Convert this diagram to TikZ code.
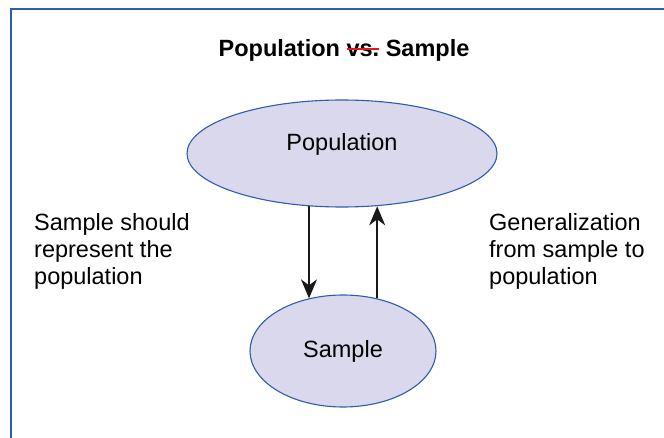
\documentclass[tikz,border=0pt]{standalone}
\usepackage{fontspec}
\setmainfont{Liberation Sans}
\usepackage{xcolor}
\usetikzlibrary{arrows.meta,shapes.geometric}

\definecolor{frameblue}{HTML}{2F5DAE}
\definecolor{lavender}{HTML}{D9D8EC}
\definecolor{strikered}{HTML}{E8141C}

\newsavebox{\strikebox}
\newcommand{\redstrike}[1]{\sbox{\strikebox}{#1}\rlap{\usebox{\strikebox}}\textcolor{strikered}{\rule[0.3em]{\wd\strikebox}{0.09em}}}

\begin{document}
\begin{tikzpicture}[
  x=1pt,y=-1pt,
  >={Stealth[length=19pt,width=16pt,inset=6pt]},
  font=\fontsize{23.5}{27}\selectfont,
  blob/.style={ellipse, draw=frameblue, fill=lavender, line width=1.1pt, inner sep=0pt},
  note/.style={align=left, anchor=north west, inner sep=0pt},
  arrow/.style={->, line width=1.7pt, draw=black!90}
]
\useasboundingbox (0,0) rectangle (664,438);
% Frame, running off the right and bottom edges.
\draw[frameblue, line width=2pt] (10.5,450) -- (10.5,9) -- (680,9);

% Title.
\node[font=\fontsize{23.5}{27}\selectfont\bfseries, anchor=base] (title) at (344,57) {Population \redstrike{vs.} Sample};

% Population and sample.
\node[blob, minimum width=310, minimum height=107] (pop) at (342,153.5) {};
\node[anchor=base] (poptext) at (342,151) {Population};
\node[blob, minimum width=186, minimum height=112] (smp) at (343,351) {Sample};

\draw[arrow] (pop.238) -- (pop.238 |- smp.123);
\draw[arrow] (smp.57) -- (smp.57 |- pop.302);

% Side notes.
\node[note] (left) at (34,213.5) {Sample should\\represent the\\population};
\node[note] (right) at (489,213.5) {Generalization\\from sample to\\population};
\end{tikzpicture}
\end{document}
